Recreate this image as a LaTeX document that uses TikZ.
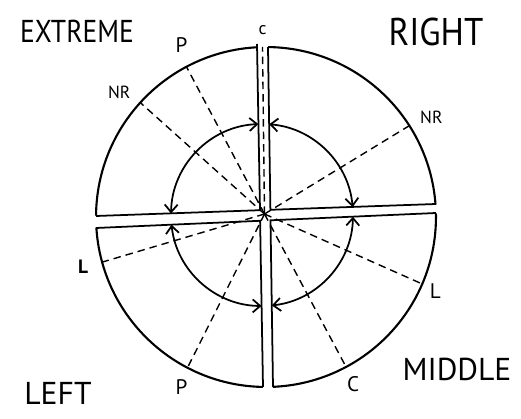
\documentclass[tikz,border=0pt]{standalone}
\usepackage{fontspec}
\usepackage{graphicx}
\setmainfont{PT Sans}
\usetikzlibrary{arrows.meta}

\begin{document}
\begin{tikzpicture}[
  x=0.02cm, y=0.02cm,
  rim/.style={line width=1.2pt},
  gap/.style={fill=white, draw=none},
  edge/.style={line width=1pt},
  ray/.style={line width=0.8pt, dash pattern=on 1.5mm off 1mm},
  swing/.style={line width=1pt, {Straight Barb[length=1.5mm,width=2.6mm]}-{Straight Barb[length=1.5mm,width=2.6mm]}},
  tag/.style={font=\fontsize{10}{10}\selectfont, inner sep=0pt},
  corner/.style={font=\fontsize{18}{18}\selectfont, inner sep=0pt}
]
\useasboundingbox (0,0) rectangle (521,419);

% centres
\coordinate (O) at (266,202);
\coordinate (I) at (262,204);
\coordinate (hub) at (264.5,205);

% outer ring
\draw[rim] (O) circle[radius=3.4cm];

% the cross: strip edges and inner corners
\coordinate (vlTop) at (257,375);
\coordinate (vlBot) at (263,32);
\coordinate (vrTop) at (268,372);
\coordinate (vrBot) at (273,32);
\coordinate (htLeft) at (96,203);
\coordinate (htRight) at (436,215);
\coordinate (hbLeft) at (96,191);
\coordinate (hbRight) at (436,206);
\coordinate (cTL) at (260,208.8);
\coordinate (cTR) at (270.4,209.2);
\coordinate (cBL) at (260.1,198.2);
\coordinate (cBR) at (270.5,198.7);
\fill[gap] ([yshift=2mm]vlTop) -- ([yshift=2mm]vrTop) -- ([yshift=-2mm]vrBot) -- ([yshift=-2mm]vlBot) -- cycle;
\fill[gap] ([xshift=-2mm]htLeft) -- ([xshift=2mm]htRight) -- ([xshift=2mm]hbRight) -- ([xshift=-2mm]hbLeft) -- cycle;

% rays out to the rim
\coordinate (pTL) at ([shift={(O)}]117.9:3.4cm);
\coordinate (nrTL) at ([shift={(O)}]137.7:3.4cm);
\coordinate (nrR) at ([shift={(O)}]32.5:3.4cm);
\coordinate (lL) at ([shift={(O)}]195.4:3.4cm);
\coordinate (pBL) at ([shift={(O)}]242.5:3.4cm);
\coordinate (lR) at ([shift={(O)}]336.8:3.4cm);
\coordinate (cB) at ([shift={(O)}]298.1:3.4cm);
\coordinate (cTop) at (262.5,372);
\foreach \e in {pTL,nrTL,nrR,lL,pBL,lR,cB,cTop}
  \draw[ray] (hub) -- (\e);

\draw[edge] (vlTop) -- (cTL) -- (htLeft);
\draw[edge] (vrTop) -- (cTR) -- (htRight);
\draw[edge] (hbLeft) -- (cBL) -- (vlBot);
\draw[edge] (hbRight) -- (cBR) -- (vrBot);

% inner ring, one swing per quarter
\foreach \a/\b in {92.3/179, 5/85.5, 186.1/269.7, 276.2/358.9}
  \draw[swing] ([shift={(I)}]\a:1.82cm) arc[start angle=\a, end angle=\b, radius=1.82cm];

% ray tags
\node[tag] (tagCt) at ([shift={(0,17)}]cTop) {c};
\node[tag, font=\fontsize{12}{12}\selectfont] (tagP1) at ([shift={(-5,22)}]pTL) {P};
\node[tag] (tagNR1) at ([shift={(-21,10)}]nrTL) {NR};
\node[tag] (tagNR2) at ([shift={(22,8)}]nrR) {NR};
\node[tag, font=\fontsize{11}{11}\selectfont\bfseries] (tagL1) at ([shift={(-19,-5)}]lL) {L};
\node[tag, font=\fontsize{12}{12}\selectfont] (tagP2) at ([shift={(-6,-19)}]pBL) {P};
\node[tag, font=\fontsize{12}{12}\selectfont] (tagL2) at ([shift={(13,-7)}]lR) {L};
\node[tag, font=\fontsize{12}{12}\selectfont] (tagC) at ([shift={(7,-17)}]cB) {C};

% corner words
\node[corner] (extreme) at (77,388) {\scalebox{0.87}[1]{EXTREME}};
\node[corner, font=\fontsize{22}{22}\selectfont] (right) at (436,387) {\scalebox{0.9}[1]{RIGHT}};
\node[corner] (left) at (58,26) {LEFT};
\node[corner] (middle) at (457,50) {MIDDLE};
\end{tikzpicture}
\end{document}
